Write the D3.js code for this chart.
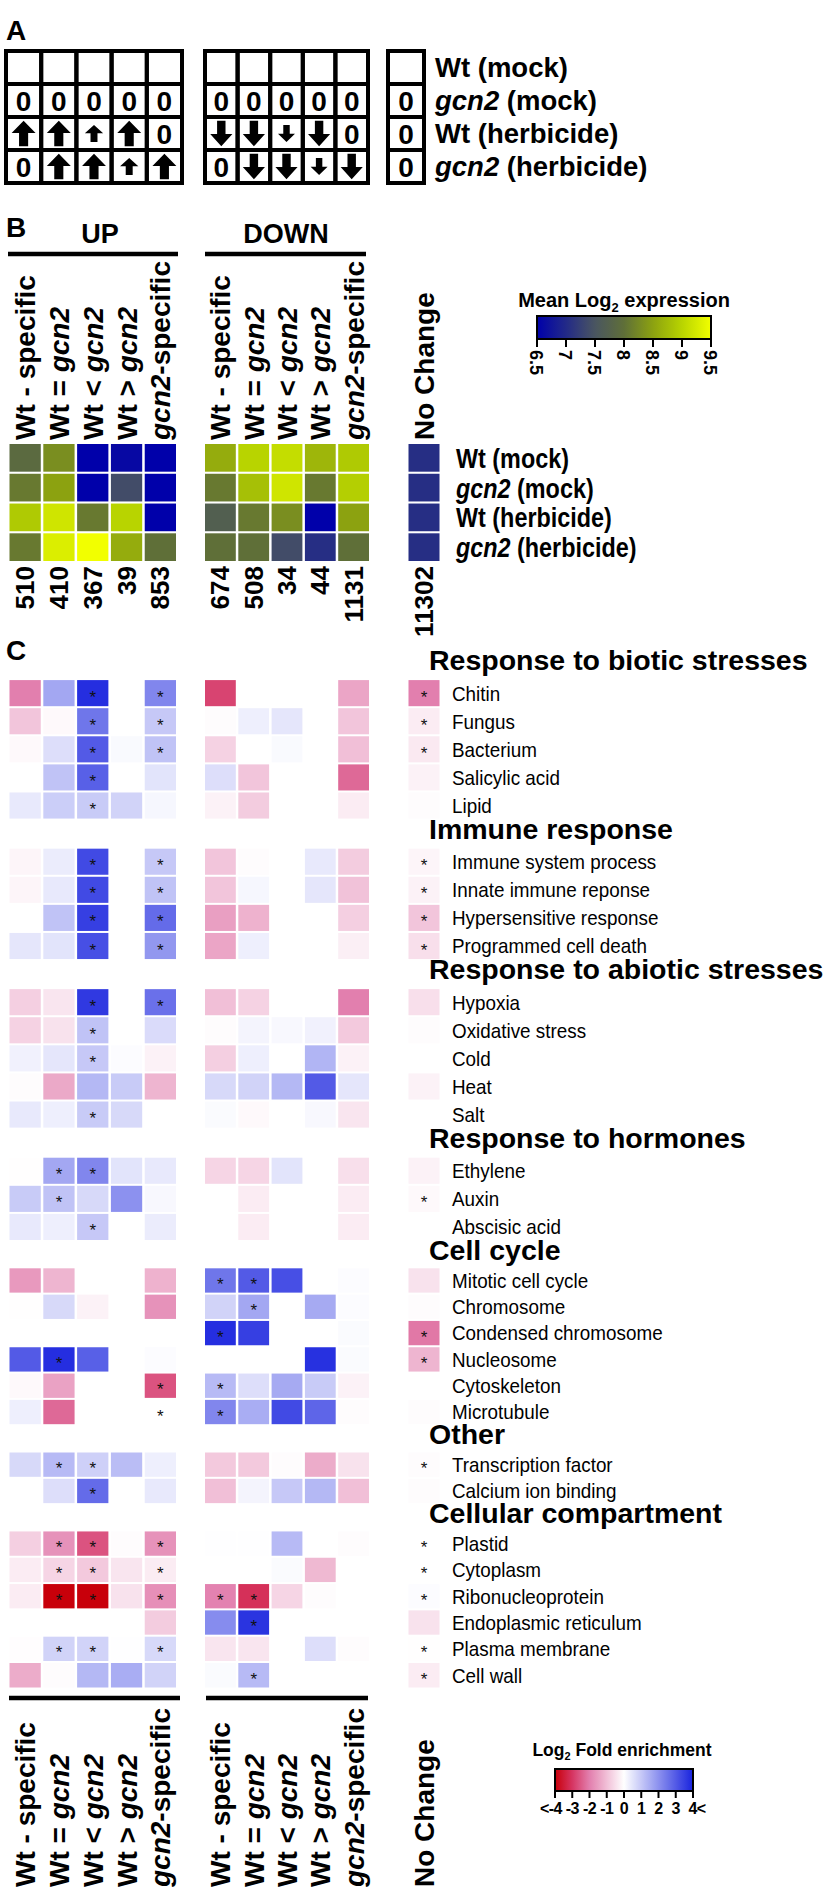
<!DOCTYPE html>
<html><head><meta charset="utf-8">
<script src="https://cdn.jsdelivr.net/npm/d3@7"></script>
<style>
body{margin:0;background:#fff;}
svg{display:block;font-family:"Liberation Sans",Arial,Helvetica,sans-serif;}
</style></head><body>
<svg id="fig" width="826" height="1890"></svg>
<script>
// ---------------- DATA ----------------
const conditions = ["Wt (mock)", "gcn2 (mock)", "Wt (herbicide)", "gcn2 (herbicide)"];
const groupCols = ["Wt - specific", "Wt = gcn2", "Wt < gcn2", "Wt > gcn2", "gcn2-specific"];
const ncLabel = "No Change";

// Panel A: schematic patterns (U/u = big/small up arrow, D/d = big/small down arrow)
const patternUp = [["", "", "", "", ""], ["0", "0", "0", "0", "0"], ["U", "U", "u", "U", "0"], ["0", "U", "U", "u", "U"]];
const patternDown = [["", "", "", "", ""], ["0", "0", "0", "0", "0"], ["D", "D", "d", "D", "0"], ["0", "D", "D", "d", "D"]];
const patternNC = [[""], ["0"], ["0"], ["0"]];

// Panel B: mean log2 expression [condition][column]
const exprUp = [
  [7.9, 8.3, 6.5, 6.6, 6.5],
  [8.1, 8.5, 6.5, 7.4, 6.5],
  [8.9, 9.2, 8.1, 9.0, 6.5],
  [8.1, 9.3, 9.5, 8.6, 8.0]];
const exprDown = [
  [8.6, 9.0, 9.1, 8.7, 8.9],
  [8.1, 8.8, 9.2, 8.1, 8.95],
  [7.7, 8.1, 8.3, 6.5, 8.5],
  [8.0, 8.0, 7.4, 7.05, 8.0]];
const exprNC = [7.05, 7.05, 7.05, 7.05];
const countsUp = [510, 410, 367, 39, 853];
const countsDown = [674, 508, 34, 44, 1131];
const countsNC = [11302];
const exprTicks = [6.5, 7, 7.5, 8, 8.5, 9, 9.5];

// Panel C: categories
const sectionTitles = ["Response to biotic stresses", "Immune response", "Response to abiotic stresses",
  "Response to hormones", "Cell cycle", "Other", "Cellular compartment"];
const sectionSizes = [5, 4, 5, 3, 6, 2, 6];
const terms = ["Chitin", "Fungus", "Bacterium", "Salicylic acid", "Lipid",
  "Immune system process", "Innate immune reponse", "Hypersensitive response", "Programmed cell death",
  "Hypoxia", "Oxidative stress", "Cold", "Heat", "Salt",
  "Ethylene", "Auxin", "Abscisic acid",
  "Mitotic cell cycle", "Chromosome", "Condensed chromosome", "Nucleosome", "Cytoskeleton", "Microtubule",
  "Transcription factor", "Calcium ion binding",
  "Plastid", "Cytoplasm", "Ribonucleoprotein", "Endoplasmic reticulum", "Plasma membrane", "Cell wall"];
const n = null;
// log2 fold enrichment: UP1..UP5, DOWN1..DOWN5, No change
const enrichment = [
  [-2.0, 1.6, 3.8, n, 2.2, -2.8, n, n, n, -1.4, -2.0],
  [-0.9, -0.1, 2.5, n, 1.0, -0.05, 0.3, 0.45, n, -0.9, -0.3],
  [-0.1, 0.6, 3.0, 0.1, 1.1, -0.7, n, 0.1, n, -1.0, -0.35],
  [n, 1.1, 2.9, n, 0.5, 0.6, -0.9, n, n, -2.3, -0.2],
  [0.4, 0.9, 0.95, 0.8, 0.15, -0.2, -0.8, n, n, -0.3, -0.05],
  [-0.15, 0.35, 3.3, n, 1.0, -0.9, -0.05, n, 0.4, -0.8, -0.15],
  [-0.15, 0.4, 3.3, n, 1.1, -0.9, 0.15, n, 0.45, -0.95, -0.2],
  [n, 1.1, 3.5, n, 2.7, -1.5, -1.2, n, n, -0.75, -0.9],
  [0.45, 0.5, 3.2, n, 1.9, -1.4, 0.3, n, n, -0.25, -0.5],
  [-0.75, -0.4, 3.6, n, 2.6, -1.0, -0.7, n, n, -2.0, -0.5],
  [-0.7, -0.45, 1.1, n, 0.65, -0.05, 0.2, 0.12, 0.25, -0.85, -0.05],
  [0.25, 0.45, 1.0, 0.05, -0.2, -0.75, 0.3, n, 1.35, -0.2, n],
  [-0.05, -1.35, 1.3, 0.95, -1.15, 0.7, 0.8, 1.3, 3.0, 0.45, -0.2],
  [0.4, 0.3, 0.95, 0.7, n, 0.08, -0.1, n, 0.12, -0.4, n],
  [-0.02, 1.6, 2.2, 0.5, 0.4, -0.65, -0.65, 0.5, n, -0.5, -0.2],
  [0.95, 1.1, 0.7, 2.0, 0.12, n, -0.3, n, n, -0.3, -0.1],
  [0.4, 0.3, 1.0, n, 0.35, n, -0.3, n, n, -0.3, n],
  [-1.6, -1.15, n, n, -1.2, 2.5, 3.0, 3.2, n, 0.05, -0.45],
  [-0.02, 0.7, -0.2, n, -1.7, 0.8, 1.6, n, 1.55, 0.05, -0.05],
  [n, n, n, n, n, 3.8, 3.5, n, n, 0.08, -2.1],
  [3.0, 3.8, 2.9, n, 0.05, n, n, n, 3.75, 0.08, -1.15],
  [-0.1, -1.45, n, n, -2.6, 1.25, 0.6, 1.55, 0.95, -0.2, n],
  [0.3, -2.3, n, n, 0, 2.2, 1.5, 3.3, 2.8, -0.05, -0.05],
  [0.7, 1.25, 0.85, 1.2, 0.3, -0.85, -0.85, -0.05, -1.3, -0.45, -0.05],
  [n, 0.6, 2.7, n, 0.4, -1.0, 0.2, 1.0, 1.3, -1.0, -0.05],
  [-0.75, -1.7, -2.6, -0.05, -1.7, 0.02, 0.02, 1.25, n, -0.05, 0],
  [-0.3, -0.65, -0.85, -0.4, -0.3, n, n, 0.08, -1.1, n, 0],
  [-0.3, -4.0, -4.0, -0.45, -1.75, -1.95, -3.1, -0.65, -0.05, n, 0.05],
  [n, n, n, n, -0.8, 2.1, 3.7, n, n, n, -0.45],
  [-0.03, 0.8, 0.8, 0.02, 0.7, -0.4, -0.4, n, 0.6, -0.05, -0.02],
  [-1.3, -0.05, 1.3, 1.5, 0.8, 0.08, 1.25, n, n, n, -0.3]];
const significance = [
  "..*.*.....*", "..*.*.....*", "..*.*.....*", "..*........", "..*........",
  "..*.*.....*", "..*.*.....*", "..*.*.....*", "..*.*.....*",
  "..*.*......", "..*........", "..*........", "...........", "..*........",
  ".**........", ".*........*", "..*........",
  ".....**....", "......*....", ".....*....*", ".*........*", "....**.....", "....**.....",
  ".**.......*", "..*........",
  ".**.*.....*", ".**.*.....*", ".**.***...*", "......*....", ".**.*.....*", "......*...*"];
const enrichTicks = [-4, -3, -2, -1, 0, 1, 2, 3, 4];

// ---------------- SETUP ----------------
const svg = d3.select("#fig");
const defs = svg.append("defs");
svg.append("rect").attr("width", 826).attr("height", 1890).attr("fill", "#fff");

function rich(sel, str) {
  str.split(/(gcn2)/).filter(s => s.length).forEach(s => {
    sel.append("tspan").text(s).attr("font-style", s === "gcn2" ? "italic" : null);
  });
}
// horizontally condensed text
function ctext(parent, x, y, size, sx, bold) {
  return parent.append("g").attr("transform", `translate(${x},${y}) scale(${sx},1)`)
    .append("text").attr("dy", "0.36em").attr("font-size", size).attr("font-weight", bold ? "bold" : null);
}

const exprColor = d3.scaleLinear().domain([6.5, 7, 7.5, 8, 8.5, 9, 9.5])
  .range(["#0000aa", "#222a88", "#4a5560", "#5f6f38", "#8ca210", "#b8d400", "#f2ff00"]).clamp(true);
const enrichColor = d3.scaleLinear().domain([-4, -3, -2, 0, 4])
  .range(["#c8000a", "#d63562", "#e27fae", "#ffffff", "#1923de"]).clamp(true);

function gradient(id, scale, dom) {
  const g = defs.append("linearGradient").attr("id", id);
  const k = 32;
  d3.range(k + 1).forEach(i => {
    const v = dom[0] + (dom[1] - dom[0]) * i / k;
    g.append("stop").attr("offset", (i / k * 100) + "%").attr("stop-color", scale(v));
  });
}
gradient("gExpr", exprColor, [6.5, 9.5]);
gradient("gEnr", enrichColor, [-4, 4]);

// column scales (shared by panels B and C)
const xUp = d3.scaleBand().domain(d3.range(5)).range([9.5, 176]).paddingInner(0.075);
const xDown = d3.scaleBand().domain(d3.range(5)).range([205, 369]).paddingInner(0.075);
const xNC = d3.scaleBand().domain([0]).range([408.5, 439.5]);
const colX = c => c < 5 ? xUp(c) : (c < 10 ? xDown(c - 5) : xNC(0));
const colW = c => c < 5 ? xUp.bandwidth() : (c < 10 ? xDown.bandwidth() : xNC.bandwidth());
const allColLabels = groupCols.concat(groupCols, [ncLabel]);

function panelLetter(t, x, y) {
  svg.append("text").attr("x", x).attr("y", y).attr("font-size", 28).attr("font-weight", "bold").text(t);
}

// ---------------- PANEL A ----------------
panelLetter("A", 6, 40);
const aY = d3.scaleBand().domain(d3.range(4)).range([51, 183]);
const aGrids = [
  {pattern: patternUp, r: [6, 182]},
  {pattern: patternDown, r: [205, 368]},
  {pattern: patternNC, r: [388, 424]}];
function arrowPath(cx, cy, w, h, dir) {
  const top = -h / 2, hh = h * 0.48, sw = w * 0.19;
  const pts = [[0, top], [w / 2, top + hh], [sw, top + hh], [sw, h / 2], [-sw, h / 2], [-sw, top + hh], [-w / 2, top + hh]];
  return "M" + pts.map(p => [cx + p[0], cy + dir * p[1]].join(",")).join("L") + "Z";
}
const gA = svg.append("g");
aGrids.forEach(gr => {
  const nc = gr.pattern[0].length;
  const ax = d3.scaleBand().domain(d3.range(nc)).range(gr.r);
  gr.pattern.forEach((row, ri) => {
    row.forEach((v, ci) => {
      const x = ax(ci), y = aY(ri), w = ax.bandwidth(), h = aY.bandwidth();
      const cx = x + w / 2, cy = y + h / 2;
      if (v === "0") {
        gA.append("text").attr("x", cx).attr("y", cy).attr("dy", "0.36em").attr("text-anchor", "middle")
          .attr("font-size", 28).attr("font-weight", "bold").text("0");
      } else if (v) {
        const big = v === v.toUpperCase();
        const dir = v.toUpperCase() === "U" ? 1 : -1;
        gA.append("path").attr("d", arrowPath(cx, cy, w * (big ? 0.68 : 0.52), h * (big ? 0.78 : 0.52), dir)).attr("fill", "#000");
      }
    });
  });
  gr.pattern.forEach((row, ri) => row.forEach((v, ci) => {
    gA.append("rect").attr("x", ax(ci)).attr("y", aY(ri)).attr("width", ax.bandwidth()).attr("height", aY.bandwidth())
      .attr("fill", "none").attr("stroke", "#000").attr("stroke-width", 4);
  }));
});
conditions.forEach((c, i) => {
  const t = gA.append("text").attr("x", 435).attr("y", aY(i) + aY.bandwidth() / 2).attr("dy", "0.36em")
    .attr("font-size", 27.5).attr("font-weight", "bold");
  rich(t, c);
});

// ---------------- PANEL B ----------------
panelLetter("B", 6, 237);
svg.append("text").attr("x", 100).attr("y", 243).attr("text-anchor", "middle").attr("font-size", 27).attr("font-weight", "bold").text("UP");
svg.append("text").attr("x", 286).attr("y", 243).attr("text-anchor", "middle").attr("font-size", 27).attr("font-weight", "bold").text("DOWN");
[[8, 178], [205, 366]].forEach(r => svg.append("line").attr("x1", r[0]).attr("x2", r[1]).attr("y1", 254).attr("y2", 254).attr("stroke", "#000").attr("stroke-width", 4.5));
[[9, 180], [206, 368]].forEach(r => svg.append("line").attr("x1", r[0]).attr("x2", r[1]).attr("y1", 1698).attr("y2", 1698).attr("stroke", "#000").attr("stroke-width", 4.5));

function colLabels(yBase) {
  allColLabels.forEach((lab, c) => {
    const cx = colX(c) + colW(c) / 2;
    const t = svg.append("text").attr("transform", `translate(${cx + 10},${yBase}) rotate(-90)`)
      .attr("font-size", 28).attr("font-weight", "bold");
    rich(t, lab);
  });
}
colLabels(440);

const yB = d3.scaleBand().domain(d3.range(4)).range([444, 561]).paddingInner(0.07);
const exprAll = conditions.map((c, i) => exprUp[i].concat(exprDown[i], [exprNC[i]]));
const gB = svg.append("g");
exprAll.forEach((row, ri) => row.forEach((v, c) => {
  gB.append("rect").attr("x", colX(c)).attr("y", yB(ri)).attr("width", colW(c)).attr("height", yB.bandwidth()).attr("fill", exprColor(v));
}));
conditions.forEach((c, i) => {
  const t = ctext(gB, 456, yB(i) + yB.bandwidth() / 2, 27.5, 0.85, true);
  rich(t, c);
});
countsUp.concat(countsDown, countsNC).forEach((v, c) => {
  const cx = colX(c) + colW(c) / 2;
  gB.append("text").attr("transform", `translate(${cx + 9},566) rotate(-90)`).attr("text-anchor", "end")
    .attr("font-size", 26).attr("font-weight", "bold").text(v);
});

// legend B
const lgB = svg.append("g");
const t1 = lgB.append("text").attr("x", 624).attr("y", 307).attr("text-anchor", "middle").attr("font-size", 20).attr("font-weight", "bold");
t1.append("tspan").text("Mean Log");
t1.append("tspan").text("2").attr("font-size", 13).attr("dy", 5);
t1.append("tspan").text(" expression").attr("dy", -5);
const exX = d3.scaleLinear().domain([6.5, 9.5]).range([537, 711]);
lgB.append("rect").attr("x", 537).attr("y", 316).attr("width", 174).attr("height", 23).attr("fill", "url(#gExpr)").attr("stroke", "#000").attr("stroke-width", 2);
exprTicks.forEach(v => {
  lgB.append("line").attr("x1", exX(v)).attr("x2", exX(v)).attr("y1", 339).attr("y2", 347).attr("stroke", "#000").attr("stroke-width", 2);
  lgB.append("text").attr("transform", `translate(${exX(v) - 7},350) rotate(90)`).attr("font-size", 18).attr("font-weight", "bold").text(v);
});

// ---------------- PANEL C ----------------
panelLetter("C", 6, 660);
const ySlot = d3.scaleLinear().domain([0, 21, 37, 38]).range([652, 1242, 1663, 1689.5]);
const gC = svg.append("g");
let slot = 0, ti = 0;
sectionTitles.forEach((title, si) => {
  gC.append("text").attr("x", 429).attr("y", ySlot(slot) + 18).attr("font-size", 28.5).attr("font-weight", "bold").text(title);
  slot++;
  for (let k = 0; k < sectionSizes[si]; k++, ti++, slot++) {
    const y0 = ySlot(slot), h = ySlot(slot + 1) - y0 - 2;
    enrichment[ti].forEach((v, c) => {
      if (v === null) return;
      gC.append("rect").attr("x", colX(c)).attr("y", y0).attr("width", colW(c)).attr("height", h).attr("fill", enrichColor(v));
      if (significance[ti][c] === "*") {
        gC.append("text").attr("x", colX(c) + colW(c) / 2).attr("y", y0 + h / 2 + 9.5).attr("text-anchor", "middle")
          .attr("font-size", 17).attr("fill", "#111").text("*");
      }
    });
    ctext(gC, 452, y0 + h / 2, 20.5, 0.92, false).text(terms[ti]);
  }
});
colLabels(1887);

// legend C
const lgC = svg.append("g");
const t2 = lgC.append("text").attr("x", 622).attr("y", 1756).attr("text-anchor", "middle").attr("font-size", 17.5).attr("font-weight", "bold");
t2.append("tspan").text("Log");
t2.append("tspan").text("2").attr("font-size", 11).attr("dy", 4);
t2.append("tspan").text(" Fold enrichment").attr("dy", -4);
const enX = d3.scaleLinear().domain([-4, 4]).range([555, 693]);
lgC.append("rect").attr("x", 555).attr("y", 1769).attr("width", 138).attr("height", 22).attr("fill", "url(#gEnr)").attr("stroke", "#000").attr("stroke-width", 2);
enrichTicks.forEach((v, i) => {
  lgC.append("line").attr("x1", enX(v)).attr("x2", enX(v)).attr("y1", 1791).attr("y2", 1798).attr("stroke", "#000").attr("stroke-width", 2);
  const first = i === 0, last = i === enrichTicks.length - 1;
  lgC.append("text").attr("x", enX(v) + (first ? -4 : last ? 4 : 0)).attr("y", 1814).attr("text-anchor", "middle")
    .attr("font-size", 16).attr("font-weight", "bold").attr("letter-spacing", -0.6)
    .text(first ? "<" + v : last ? v + "<" : v);
});
</script>
</body></html>
